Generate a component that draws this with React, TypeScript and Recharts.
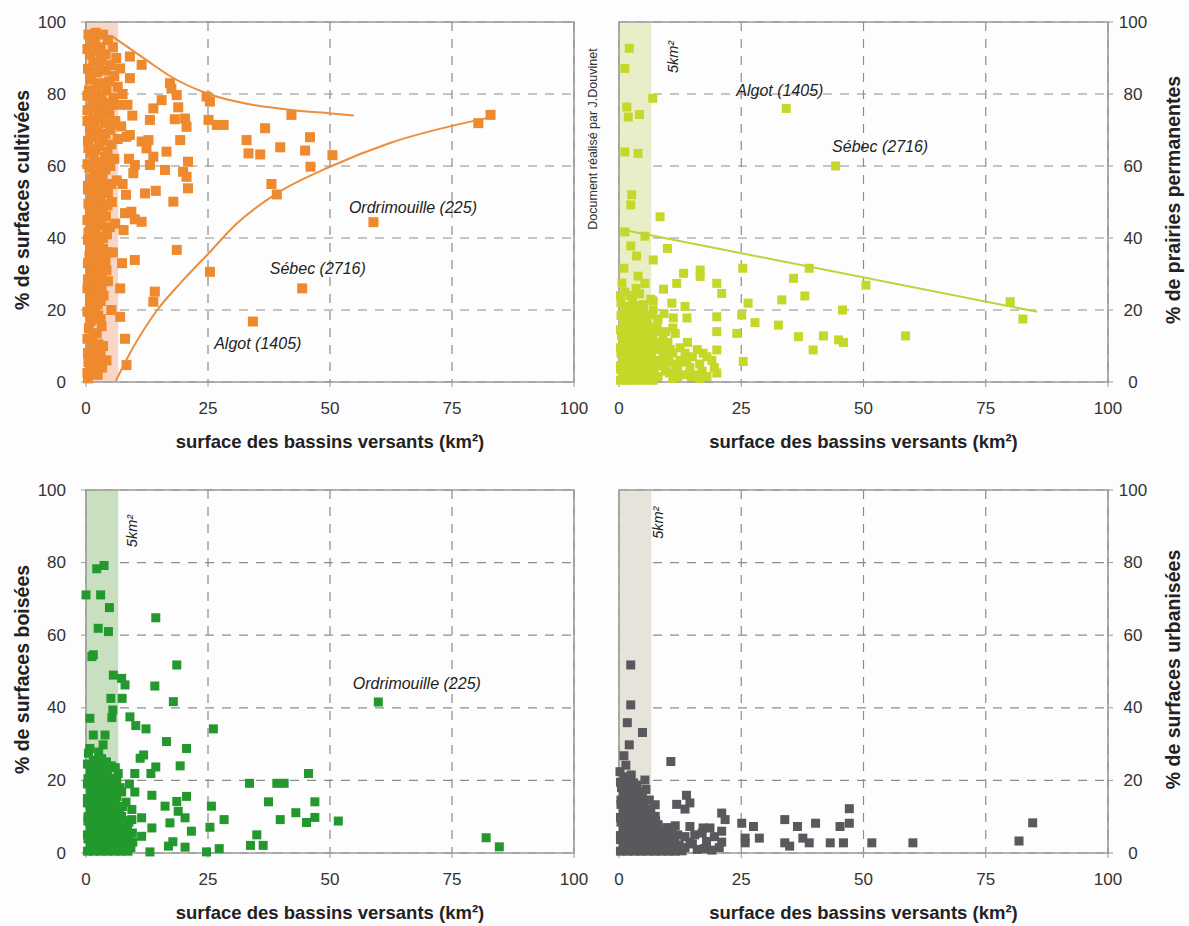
import React from "react";
import { ScatterChart, Scatter, XAxis, YAxis, CartesianGrid, ReferenceArea } from "recharts";

type Pt = [number, number];
type Note = { x: number; y: number; text: string };

const FONT = '"Liberation Sans", Arial, Helvetica, sans-serif';
const xTicks = [0, 25, 50, 75, 100];
const yTicks = [0, 20, 40, 60, 80, 100];
const xTitle = "surface des bassins versants (km²)";
const bandMax = 6.6;

// % de surfaces cultivées
const cultiveesBande: Pt[] = [
  [0.5, 96.5], [2, 97], [3.5, 96.5], [1.2, 94], [4.5, 95], [0.8, 91], [2.5, 92], [5.5, 93], [1.5, 89], [3.2, 89.5],
  [6.2, 90], [0.4, 87], [2.2, 86], [4, 86.5], [5.8, 85], [1, 84], [3, 83], [6.5, 82], [0.6, 81], [2, 80.5],
  [4.2, 81], [5.6, 79], [1.3, 78], [3.5, 77.5], [6.8, 77], [0.3, 75.5], [2.6, 75], [4.8, 74.5], [1.5, 73], [3.8, 72],
  [6, 72.5], [0.8, 70.5], [2.4, 69.5], [5, 70], [1.2, 68], [3.4, 67], [6.5, 67.5], [0.5, 65], [2, 64.5], [4.4, 64],
  [1.6, 62], [3, 61], [5.8, 62], [0.7, 59.5], [2.5, 58.5], [4, 59], [1.2, 56.5], [3.3, 55.5], [6.3, 56], [0.4, 53.5],
  [2.1, 53], [4.5, 52.5], [1.5, 50.5], [3.2, 49.5], [5.3, 50], [0.8, 47.5], [2.6, 47], [4.1, 46], [1.2, 44], [3, 43.5],
  [6, 44], [0.5, 41.5], [2.2, 40.5], [4.3, 41], [1.6, 38], [3.5, 37], [0.7, 35], [2.5, 34], [4, 33.5], [1.2, 31.5],
  [3.2, 30.5], [0.4, 28.5], [2, 27.5], [4.5, 28], [1.5, 25], [3.6, 24], [0.8, 22], [2.4, 21.5], [1.5, 19], [3, 17.5],
  [0.6, 15], [2.2, 13.5], [1.2, 11], [3.5, 10], [0.4, 8], [2, 7], [1.2, 4.5], [3.3, 4], [0.3, 2.5], [2.4, 2],
  [4.2, 6], [5.5, 36], [5.2, 20],
  [1.8, 95], [3, 93], [0.3, 92.5], [4, 91], [5, 88], [2.8, 87.5], [1, 86], [4.8, 83.5], [2.2, 82.5], [0.3, 79.5],
  [3.2, 79.5], [5, 77], [2.1, 77], [0.9, 76], [4, 75.5], [3, 73.5], [0.3, 72.5], [5.5, 71.5], [1.7, 71], [4, 69],
  [3, 68.5], [0.4, 67], [5.2, 66], [2.7, 65.5], [1, 63.5], [3.9, 62.5], [2.2, 61], [0.3, 60.5], [5, 60], [3.4, 58],
  [1.7, 57.5], [5.2, 55], [2.5, 55], [0.4, 54.5], [3.8, 53.5], [1.2, 52], [2.9, 51.5], [0.5, 49.5], [4.4, 49], [1.9, 48.5],
  [3.4, 47], [1.5, 46], [0.3, 45], [2.8, 45], [4.9, 43], [1.8, 42], [3.5, 40], [0.4, 39.5], [2.8, 38.5], [1, 37],
  [4.4, 36], [1.8, 35.5], [3.2, 34.5], [0.4, 33], [2.3, 32], [4.2, 31], [1, 30], [2.8, 29], [1.4, 27], [3.2, 26.5],
  [0.3, 26], [2.4, 24.5], [0.9, 23.5], [3, 22.5], [1.8, 20.5], [0.3, 19.5], [2.5, 18.5], [1, 17], [3.2, 15.5], [1.5, 13.5],
  [0.3, 12], [2.5, 10.5], [1.2, 9], [3, 8], [0.5, 5.5], [2.5, 5], [1.5, 3], [0.4, 1],
];
const cultiveesHors: Pt[] = [
  [9, 90.4], [7, 87.1], [11.4, 88.1], [9, 84.4], [17.2, 83], [17.5, 81.5], [15.5, 78.3], [18.6, 79.7], [24.7, 79.3], [25.4, 77.9],
  [13.8, 76], [18.9, 76.3], [13.1, 72.8], [18.2, 73], [20.3, 73.2], [20.6, 70.9], [25.1, 72.8], [26.8, 71.4], [28.2, 71.4], [8.3, 68.1],
  [9, 68.6], [11.4, 66.8], [12.8, 67.2], [19.3, 67.2], [12.4, 64.9], [16.5, 64], [13.8, 62.6], [13.1, 60.3], [10, 60.3], [9.7, 58],
  [16.2, 58.9], [20.9, 61.2], [19.9, 58.4], [20.6, 57], [20.9, 53.8], [12.1, 52.4], [14.3, 53.1], [17.9, 50.1], [8, 46.9], [9.3, 47.3],
  [10, 45.2], [11.4, 44.5], [7.7, 42.2], [18.6, 36.7], [10, 33.9], [25.4, 30.6], [14.1, 25.1], [13.8, 22.3], [7, 18.1], [8.3, 4.7],
  [7.5, 80], [8.5, 77], [9.5, 74], [7.2, 71], [8.8, 62], [7.5, 55], [8.2, 52], [7.4, 33], [7, 26], [8, 12],
  [32.9, 67.2], [33.3, 63.5], [35.7, 63.2], [36.7, 70.5], [39.8, 65.2], [42.1, 74.2], [44.9, 64.3], [45.9, 68], [46, 59.8], [38, 55],
  [39.1, 52.1], [50.5, 63], [80.4, 71.9], [82.9, 74.2], [44.3, 26], [34.2, 16.8], [58.9, 44.4],
];
const cultiveesMax: Pt[] = [[5.4, 96], [12.4, 89.4], [17.2, 85], [25.1, 80], [32.9, 77.3], [42.5, 75.5], [50, 74.6], [54.9, 74]];
const cultiveesMin: Pt[] = [[6.1, 0.3], [9, 8], [14.6, 20], [19.3, 27.4], [25.1, 35.7], [30.9, 44], [39.1, 52.4], [50, 59.8], [62.3, 66.4], [82.1, 73.3]];
const cultiveesNotes: Note[] = [
  { x: 67, y: 48.6, text: "Ordrimouille (225)" },
  { x: 47.5, y: 31.4, text: "Sébec (2716)" },
  { x: 35.2, y: 10.8, text: "Algot (1405)" },
];

// % de prairies permanentes
const prairiesBande: Pt[] = [
  [0.3, 0.5], [1.5, 0.5], [2.8, 0.5], [4.2, 0.5], [5.6, 0.5], [7, 0.5], [0.8, 2.5], [2.2, 2.5], [3.6, 2.2], [5, 2.8],
  [6.4, 2.5], [8, 1.5], [0.3, 4.5], [1.6, 4.8], [3, 4.2], [4.4, 5], [5.8, 4.5], [7.2, 4], [9.5, 3], [11, 1],
  [0.9, 7], [2.3, 6.8], [3.8, 7.2], [5.2, 6.5], [6.6, 7], [8.2, 6], [10.2, 5.5], [12, 3.5], [0.3, 9.5], [1.7, 9],
  [3.2, 9.6], [4.6, 9.2], [6, 9.8], [7.5, 9], [9, 8.5], [11, 8], [13, 2], [14.5, 4], [0.8, 12], [2.4, 11.8],
  [3.9, 12.2], [5.4, 11.5], [6.9, 12], [8.5, 11], [10, 11], [12.5, 9.5], [0.3, 14.5], [1.8, 14], [3.3, 14.8], [4.8, 14.2],
  [6.2, 15], [7.8, 14], [15.5, 2], [16.5, 5], [18, 1.5], [19.5, 4], [0.9, 17], [2.5, 17.2], [4, 16.8], [5.6, 17.5],
  [1.5, 19.5], [3.2, 19.8], [0.4, 22], [2.8, 22.5], [5, 21.5], [7, 20], [1.2, 25], [4.2, 24.5], [6.5, 23], [9.5, 14],
  [11.5, 13.5], [8, 17.5], [16, 9], [14, 11], [12.5, 6], [18, 7], [20, 2.5], [0.6, 27.5],
  [1, 1.5], [2.2, 1.2], [3.5, 1], [4.9, 1.4], [6.3, 1.2], [0.3, 3.5], [1.5, 3.3], [2.9, 3.2], [4.2, 3.5], [5.6, 3.4],
  [7, 3], [1, 5.8], [2.5, 5.5], [3.8, 5.8], [5.2, 5.4], [6.5, 5.6], [0.4, 8], [1.8, 8], [3.1, 8.3], [4.6, 8],
  [6, 8.2], [1.2, 10.8], [2.7, 10.5], [4.1, 10.8], [5.5, 10.5], [7, 10.6], [0.5, 13], [2, 13.2], [3.5, 13], [5, 13.2],
  [6.5, 13.4], [1.2, 15.8], [2.8, 15.6], [4.3, 15.8], [5.8, 16.2], [0.4, 18.5], [2, 18.5], [3.6, 18.2], [5, 19], [6.6, 18.6],
  [1.2, 21], [2.5, 20.8], [4, 21.2], [0.3, 24], [2.3, 24], [3.5, 26], [8.8, 4.5], [10.3, 2.5], [12, 1.5], [9.5, 7],
  [11.5, 5], [13.5, 5.5], [14.8, 1.5], [17, 3], [8.8, 10], [10.5, 9], [13.5, 8], [15, 7], [16.5, 1], [19, 6],
  [9, 12.5], [11, 15], [7.8, 15.8], [9.2, 19], [7, 22.5],
];
const prairiesHors: Pt[] = [
  [2.1, 92.7], [1.2, 87.1], [6.9, 78.8], [1.6, 76.4], [1.9, 73.6], [4.2, 74.3], [1.2, 63.9], [3.9, 63.5], [2.6, 52], [2.4, 49.2],
  [8.4, 45.9], [1.2, 41.7], [5.3, 40.5], [2.4, 37.8], [3.6, 35], [7, 33.9], [9.9, 37.1], [1, 31.6], [3.9, 29.4], [5.3, 27.4],
  [9.1, 25.8], [11.8, 27.4], [13.2, 30.2], [16.6, 31.1], [16.6, 29.3], [20, 27.4], [21, 24.6], [25.3, 31.6], [26.4, 21.9], [33.3, 22.8],
  [35.7, 28.8], [38, 23.9], [38.9, 31.6], [45.7, 20], [10.8, 21.9], [13.5, 21], [13.9, 17.8], [11.1, 17.8], [20, 18.1], [20, 14],
  [24.1, 13.5], [25.1, 18.6], [27.8, 16.5], [32.6, 15.8], [36.7, 12.6], [39.7, 8.9], [41.8, 12.8], [44.9, 11.7], [45.9, 11], [20, 8.9],
  [25.4, 5.7], [17.2, 8], [13.9, 6.2], [50.5, 26.9], [80, 22.3], [82.6, 17.5], [58.6, 12.8], [34.2, 76], [44.3, 60],
];
const prairiesTendance: Pt[] = [[0, 42.5], [85.5, 19.5]];
const prairiesNotes: Note[] = [
  { x: 32.9, y: 81.1, text: "Algot (1405)" },
  { x: 53.4, y: 65.3, text: "Sébec (2716)" },
];

// % de surfaces boisées
const boiseesBande: Pt[] = [
  [0.3, 0.5], [1.6, 0.5], [3, 0.5], [4.4, 0.5], [5.8, 0.5], [7.2, 0.5], [8.6, 0.5], [0.9, 2.8], [2.3, 2.5], [3.7, 3],
  [5.1, 2.6], [6.5, 2.9], [8, 2.4], [9.2, 1.5], [0.3, 5], [1.7, 5.2], [3.1, 4.8], [4.5, 5.4], [5.9, 5], [7.3, 5.2],
  [8.7, 4.5], [0.9, 7.5], [2.4, 7.8], [3.8, 7.2], [5.2, 7.6], [6.6, 7.3], [8.2, 7], [0.4, 10], [1.8, 10.2], [3.2, 9.8],
  [4.7, 10.4], [6, 10], [0.9, 12.5], [2.4, 12.8], [3.8, 12.2], [5.3, 12.6], [6.8, 12.2], [0.3, 15], [1.8, 15.3], [3.2, 14.8],
  [4.7, 15.2], [6.3, 15.5], [8.2, 14], [1, 17.8], [2.5, 18], [4, 17.5], [5.5, 18.2], [7, 18], [0.4, 20.5], [1.9, 20.8],
  [3.4, 20.2], [5, 20.6], [0.9, 23], [2.5, 23.2], [4, 22.8], [6, 23.5], [1.5, 25.5], [3.2, 26], [0.5, 27.5], [2.6, 27.8],
  [1, 1.6], [2.3, 1.3], [3.7, 1.7], [5.1, 1.4], [6.5, 1.6], [7.9, 1.3], [9.6, 3], [0.4, 3.9], [1.6, 3.7], [3, 4],
  [4.4, 3.8], [5.8, 4.1], [7.2, 3.9], [8.5, 6.2], [1, 6.3], [2.5, 6.1], [3.9, 6.4], [5.3, 6.2], [6.7, 6.1], [0.4, 8.8],
  [1.8, 8.6], [3.2, 8.9], [4.6, 8.7], [6.1, 8.8], [7.6, 9], [1, 11.2], [2.4, 11.4], [3.9, 11.1], [5.4, 11.3], [6.8, 11],
  [0.3, 13.8], [1.7, 13.7], [3.1, 13.9], [4.6, 13.6], [6, 13.8], [7.5, 12.8], [1, 16.5], [2.5, 16.5], [4, 16.2], [5.5, 16.6],
  [0.3, 19], [1.8, 19.2], [3.3, 19], [4.8, 19.3], [6.3, 19.6], [1.3, 21.8], [2.8, 21.6], [4.4, 21.5], [0.3, 24.5], [2, 24.4],
  [3.6, 24.3], [5.2, 24], [9.5, 5.5], [8.8, 8.5], [9.4, 12], [8.9, 19],
];
const boiseesHors: Pt[] = [
  [2.2, 78.3], [3.7, 79.2], [0, 71.1], [3, 71.1], [4.8, 67.6], [14.3, 64.8], [2.5, 61.9], [4.6, 61], [1.2, 54.1], [1.5, 54.6],
  [18.6, 51.8], [5.6, 49], [7.3, 48.1], [8, 46.3], [14.1, 46], [17.9, 41.7], [5.1, 42.6], [7.4, 42.6], [0.8, 37.1], [5.3, 37.3],
  [5.5, 39.4], [9, 37.5], [10.2, 35.1], [12.3, 34.2], [26.1, 34.2], [1.5, 32.5], [3.9, 32.5], [3.5, 29.8], [16.5, 30.7], [20.6, 28.8],
  [0.8, 28.8], [11.1, 26.1], [11.8, 27], [10, 21.9], [13.3, 21.9], [14.3, 23.7], [19.3, 24], [6.6, 21.9], [4.2, 25.1], [45.6, 21.9],
  [33.5, 19.2], [39.1, 19.2], [40.6, 19.2], [7.3, 16.8], [10, 16.8], [13.5, 15.9], [16.2, 12.9], [18.6, 14.2], [20.6, 15.6], [18.9, 11.5],
  [20.3, 9.7], [21.6, 6], [25.7, 12.9], [28.3, 9.2], [25.4, 7.1], [37.4, 14.1], [46.9, 14.1], [43, 11.1], [45.2, 8.4], [46.9, 9.8],
  [39.8, 9.2], [9.4, 9.2], [11.4, 9.7], [7.3, 10.1], [7.3, 8.3], [17.2, 8.3], [13.5, 6.9], [11.4, 4.6], [16.9, 1.9], [17.8, 3.1],
  [20.3, 1.6], [13.1, 0.3], [24.7, 0.3], [27.3, 1.2], [33.7, 2.1], [36.3, 2.1], [35, 5], [59.9, 41.6], [51.7, 8.8], [82, 4.2],
  [84.7, 1.7],
];
const boiseesNotes: Note[] = [{ x: 67.8, y: 46.8, text: "Ordrimouille (225)" }];

// % de surfaces urbanisées
const urbaniseesBande: Pt[] = [
  [0.3, 0.5], [1.7, 0.5], [3.1, 0.5], [4.5, 0.5], [5.9, 0.5], [7.3, 0.5], [8.7, 0.5], [10.1, 0.5], [11.5, 0.5], [12.9, 0.6],
  [0.9, 2.6], [2.3, 2.9], [3.7, 2.4], [5.1, 2.8], [6.5, 2.5], [7.9, 2.9], [9.3, 2.4], [10.7, 2.7], [12.3, 2.2], [16, 1],
  [17.5, 1.2], [19, 0.8], [20.5, 1.5], [0.3, 4.8], [1.7, 5.2], [3.1, 4.6], [4.5, 5.1], [5.9, 4.7], [7.3, 5.3], [8.7, 4.9],
  [10.3, 4.5], [12, 5], [13.5, 4.5], [0.9, 7.2], [2.3, 7.5], [3.7, 7], [5.1, 7.6], [6.5, 7.2], [8, 7.8], [9.8, 7],
  [11.5, 7.5], [15.5, 5], [17, 5.5], [19.5, 4.5], [21, 3], [0.3, 9.8], [1.7, 10.1], [3.1, 9.6], [4.5, 10.2], [5.9, 9.7],
  [7.4, 10.1], [0.9, 12.2], [2.3, 12.5], [3.7, 12], [5.1, 12.6], [6.5, 12.1], [0.4, 14.6], [1.8, 14.9], [3.3, 14.3], [4.8, 15],
  [6.2, 14.6], [0.9, 17], [2.4, 17.3], [4, 16.8], [5.5, 17.5], [0.3, 19.5], [1.6, 19.8], [3, 19.3],
  [1, 1.6], [2.4, 1.5], [3.8, 1.7], [5.2, 1.5], [6.6, 1.6], [8, 1.4], [9.4, 1.6], [10.8, 1.4], [12.2, 1.3], [13.5, 1.5],
  [15, 2.5], [0.3, 3.7], [1.6, 3.9], [3, 3.6], [4.4, 3.8], [5.8, 3.6], [7.2, 3.9], [8.6, 3.7], [10, 3.5], [11.4, 3.8],
  [1, 6], [2.4, 6.2], [3.8, 5.9], [5.2, 6.1], [6.6, 6.2], [8, 6.1], [9.4, 6], [10.8, 6], [0.4, 8.5], [1.8, 8.7],
  [3.2, 8.4], [4.6, 8.6], [6, 8.6], [7.5, 8.8], [1.2, 11], [2.6, 11.2], [4, 11.1], [5.4, 11], [0.4, 13.4], [1.8, 13.6],
  [3.2, 13.3], [4.7, 13.5], [1.2, 16], [2.7, 16.1], [4.3, 15.8], [0.5, 18], [2, 18.2], [3.4, 17.8], [1, 21], [2.5, 21.5],
];
const urbaniseesHors: Pt[] = [
  [2.4, 51.8], [2.4, 40.8], [1.7, 35.9], [4.8, 33.2], [2.1, 29.8], [1, 26.8], [10.6, 25.2], [0.2, 22.4], [1.4, 24.2], [5.3, 20.1],
  [3.6, 18.7], [13.8, 15.9], [11.8, 13.4], [14.5, 13.8], [13.5, 12.1], [7.4, 13.3], [14.5, 7.3], [17.2, 6.9], [18.6, 6.9], [21, 11],
  [21.7, 9.2], [21, 6], [17.9, 3.2], [14.5, 3], [11.1, 2.8], [25.1, 8.2], [27.5, 7.3], [28.7, 4.1], [25.8, 4.1], [25.8, 2.8],
  [33.9, 9.2], [36.5, 7.3], [40.2, 8.2], [37.6, 4.1], [38.9, 2.8], [43.2, 2.8], [45.9, 2.8], [45.2, 7.3], [47.1, 8.2], [47.1, 12.2],
  [33.9, 2.8], [34.9, 1.9], [51.7, 2.8], [60.1, 2.8], [81.8, 3.3], [84.6, 8.3],
];

const toXY = (pts: Pt[]) => pts.map(([x, y]) => ({ x, y }));

const XTick = ({ x, y, payload }: any) => (
  <text x={x} y={y + 21} textAnchor="middle" dominantBaseline="central" fontSize={17} fill="#333" fontFamily={FONT}>
    {payload.value}
  </text>
);
const LeftTick = ({ x, y, payload }: any) => (
  <text x={x - 15} y={y} textAnchor="end" dominantBaseline="central" fontSize={17} fill="#333" fontFamily={FONT}>
    {payload.value}
  </text>
);
const RightTick = ({ x, y, payload }: any) => (
  <text x={x + 20} y={y} textAnchor="middle" dominantBaseline="central" fontSize={17} fill="#333" fontFamily={FONT}>
    {payload.value}
  </text>
);

const xTitleContent = (props: any) => {
  const vb = props.viewBox;
  return (
    <text x={vb.x + vb.width / 2} y={vb.y + 59} textAnchor="middle" dominantBaseline="central" fontSize={18.5} fontWeight="bold" fill="#222" fontFamily={FONT}>
      {xTitle}
    </text>
  );
};
const yTitleContent = (title: string, right: boolean) => (props: any) => {
  const vb = props.viewBox;
  const cx = right ? vb.x + 65 : vb.x + 22;
  const cy = vb.y + vb.height / 2 - 2;
  return (
    <text x={cx} y={cy} transform={`rotate(-90 ${cx} ${cy})`} textAnchor="middle" dominantBaseline="central" fontSize={19.5} fontWeight="bold" fill="#222" fontFamily={FONT}>
      {title}
    </text>
  );
};

const noteShape = (p: any) => (
  <text x={p.cx} y={p.cy} textAnchor="middle" dominantBaseline="central" fontSize={16} fontStyle="italic" fill="#222" fontFamily={FONT}>
    {p.payload.text}
  </text>
);
const bandNoteShape = (p: any) => (
  <text x={p.cx} y={p.cy} transform={`rotate(-90 ${p.cx} ${p.cy})`} textAnchor="middle" dominantBaseline="central" fontSize={14.5} fontStyle="italic" fill="#222" fontFamily={FONT}>
    5km²
  </text>
);
const squareShape = (color: string, size: number) => (p: any) => (
  <rect x={p.cx - size / 2} y={p.cy - size / 2} width={size} height={size} fill={color} />
);
const noShape = () => <g />;

interface PanelProps {
  left: number;
  top: number;
  width: number;
  height: number;
  margin: { top: number; right: number; bottom: number; left: number };
  yWidth: number;
  side: "left" | "right";
  points: Pt[];
  color: string;
  size: number;
  band: string;
  yTitle: string;
  curves?: Pt[][];
  curveColor?: string;
  notes?: Note[];
  bandNote?: { x: number; y: number };
}

function Panel(p: PanelProps) {
  const right = p.side === "right";
  return (
    <div style={{ position: "absolute", left: p.left, top: p.top }}>
      <ScatterChart width={p.width} height={p.height} margin={p.margin}>
        <ReferenceArea x1={0} x2={bandMax} y1={0} y2={100} fill={p.band} fillOpacity={1} stroke="none" />
        <CartesianGrid stroke="#8d8d8d" strokeDasharray="9 8" strokeWidth={1.2} />
        <XAxis
          type="number"
          dataKey="x"
          domain={[0, 100]}
          ticks={xTicks}
          interval={0}
          height={60}
          axisLine={false}
          tickLine={{ stroke: "#999" }}
          tickSize={5}
          tickMargin={0}
          tick={XTick}
          label={xTitleContent}
        />
        <YAxis
          type="number"
          dataKey="y"
          domain={[0, 100]}
          ticks={yTicks}
          interval={0}
          orientation={p.side}
          width={p.yWidth}
          axisLine={false}
          tickLine={{ stroke: "#999" }}
          tickSize={5}
          tickMargin={0}
          tick={right ? RightTick : LeftTick}
          label={yTitleContent(p.yTitle, right)}
        />
        <Scatter data={toXY(p.points)} shape={squareShape(p.color, p.size)} isAnimationActive={false} />
        {(p.curves || []).map((c, i) => (
          <Scatter
            key={i}
            data={toXY(c)}
            line={{ stroke: p.curveColor, strokeWidth: 2 }}
            lineJointType="monotoneX"
            shape={noShape}
            isAnimationActive={false}
          />
        ))}
        {p.notes && <Scatter data={p.notes} shape={noteShape} isAnimationActive={false} />}
        {p.bandNote && <Scatter data={[p.bandNote]} shape={bandNoteShape} isAnimationActive={false} />}
        <ReferenceArea x1={0} x2={100} y1={0} y2={100} fill="none" stroke="#9a9a9a" strokeWidth={1.6} />
      </ScatterChart>
    </div>
  );
}

export default function App() {
  return (
    <div style={{ position: "absolute", left: 0, top: 0, width: 1189, height: 926, background: "#fdfdfd", fontFamily: FONT }}>
      <Panel
        left={0}
        top={0}
        width={600}
        height={470}
        margin={{ top: 22, right: 26, bottom: 28, left: 0 }}
        yWidth={86}
        side="left"
        points={[...cultiveesBande, ...cultiveesHors]}
        color="#ee8a2d"
        size={10}
        band="#f8d6c6"
        yTitle="% de surfaces cultivées"
        curves={[cultiveesMax, cultiveesMin]}
        curveColor="#ec8d3c"
        notes={cultiveesNotes}
      />
      <Panel
        left={600}
        top={0}
        width={589}
        height={470}
        margin={{ top: 22, right: 0, bottom: 28, left: 19 }}
        yWidth={81}
        side="right"
        points={[...prairiesBande, ...prairiesHors]}
        color="#c5d82a"
        size={9}
        band="#e8efc8"
        yTitle="% de prairies permanentes"
        curves={[prairiesTendance]}
        curveColor="#bcd43a"
        notes={prairiesNotes}
        bandNote={{ x: 11, y: 90.3 }}
      />
      <Panel
        left={0}
        top={470}
        width={600}
        height={456}
        margin={{ top: 20, right: 26, bottom: 13, left: 0 }}
        yWidth={86}
        side="left"
        points={[...boiseesBande, ...boiseesHors]}
        color="#23982d"
        size={9}
        band="#c9e0c0"
        yTitle="% de surfaces boisées"
        notes={boiseesNotes}
        bandNote={{ x: 9.4, y: 88.7 }}
      />
      <Panel
        left={600}
        top={470}
        width={589}
        height={456}
        margin={{ top: 20, right: 0, bottom: 13, left: 19 }}
        yWidth={81}
        side="right"
        points={[...urbaniseesBande, ...urbaniseesHors]}
        color="#59595d"
        size={9}
        band="#e6e3da"
        yTitle="% de surfaces urbanisées"
        bandNote={{ x: 8, y: 91 }}
      />
      <svg style={{ position: "absolute", left: 580, top: 25 }} width={26} height={230}>
        <text x={13} y={114} transform="rotate(-90 13 114)" textAnchor="middle" dominantBaseline="central" fontSize={12.5} fill="#333" fontFamily={FONT}>
          Document réalisé par J.Douvinet
        </text>
      </svg>
    </div>
  );
}
